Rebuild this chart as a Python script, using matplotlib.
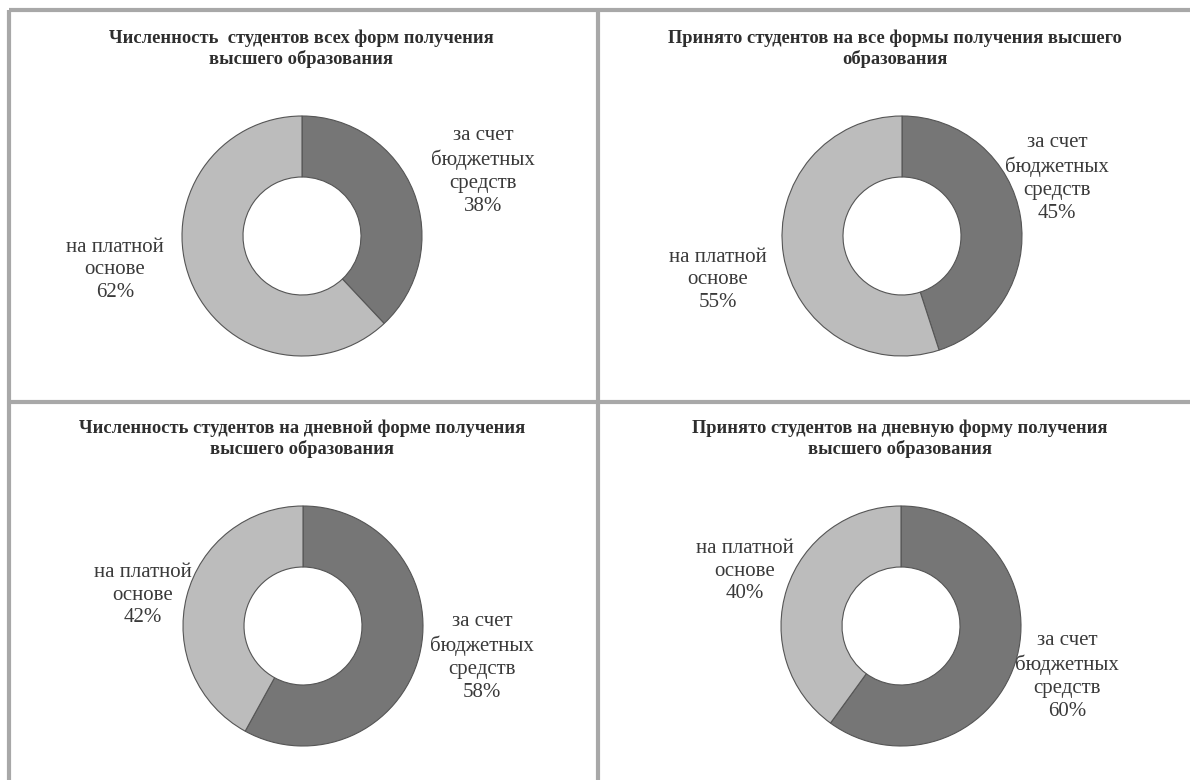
import matplotlib
matplotlib.use("Agg")
import matplotlib.pyplot as plt

plt.rcParams['font.family'] = ['Liberation Serif', 'DejaVu Serif']

# данные
titles = [
    "Численность  студентов всех форм получения\nвысшего образования",
    "Принято студентов на все формы получения высшего\nобразования",
    "Численность студентов на дневной форме получения\nвысшего образования",
    "Принято студентов на дневную форму получения\nвысшего образования",
]
budget_pct = [38, 45, 58, 60]   # за счет бюджетных средств
paid_pct = [62, 55, 42, 40]     # на платной основе
budget_name = "за счет\nбюджетных\nсредств"
paid_name = "на платной\nоснове"

# раскладка (пиксели, y сверху вниз)
W, H = 1190, 780
centers = [(302, 236), (902, 236), (303, 626), (901, 626)]
title_pos = [(301, 49), (895, 49), (302, 439), (900, 439)]
budget_lbl = [(483, 171), (1057, 178), (482, 657), (1067, 676)]
paid_lbl = [(115, 270), (718, 280), (143, 595), (745, 571)]
R, RING = 120, 61

DARK = '#767676'
LIGHT = '#bcbcbc'
EDGE = '#555555'
TXT = '#3a3a3a'
LINE = '#a8a8a8'

fig = plt.figure(figsize=(W / 100, H / 100), dpi=100, facecolor='white')
ax = fig.add_axes([0, 0, 1, 1])

def fy(y):  # перевод из пикселей экрана
    return H - y

for i in range(4):
    cx, cy = centers[i]
    ax.pie([budget_pct[i], paid_pct[i]], colors=[DARK, LIGHT],
           startangle=90, counterclock=False, radius=R,
           center=(cx, fy(cy)), frame=True,
           wedgeprops=dict(width=RING, edgecolor=EDGE, linewidth=0.8))
    tx, ty = title_pos[i]
    ax.text(tx, fy(ty), titles[i], ha='center', va='center',
            fontsize=13.3, fontweight='bold', color='#2e2e2e', linespacing=1.2)
    bx, by = budget_lbl[i]
    ax.text(bx, fy(by), f"{budget_name}\n{budget_pct[i]}%", ha='center',
            va='center', fontsize=15, color=TXT, linespacing=1.27)
    px, py = paid_lbl[i]
    ax.text(px, fy(py), f"{paid_name}\n{paid_pct[i]}%", ha='center',
            va='center', fontsize=15, color=TXT, linespacing=1.27)

# рамки таблицы
lw = 3
ax.plot([9, W], [fy(10), fy(10)], color=LINE, lw=lw, solid_capstyle='butt')
ax.plot([9, 9], [fy(10), 0], color=LINE, lw=lw, solid_capstyle='butt')
ax.plot([598, 598], [fy(10), 0], color=LINE, lw=lw, solid_capstyle='butt')
ax.plot([9, W], [fy(402), fy(402)], color=LINE, lw=lw, solid_capstyle='butt')

ax.set_xlim(0, W)
ax.set_ylim(0, H)
ax.set_aspect('auto')
ax.axis('off')

fig.savefig('out.png', dpi=100, facecolor='white')
